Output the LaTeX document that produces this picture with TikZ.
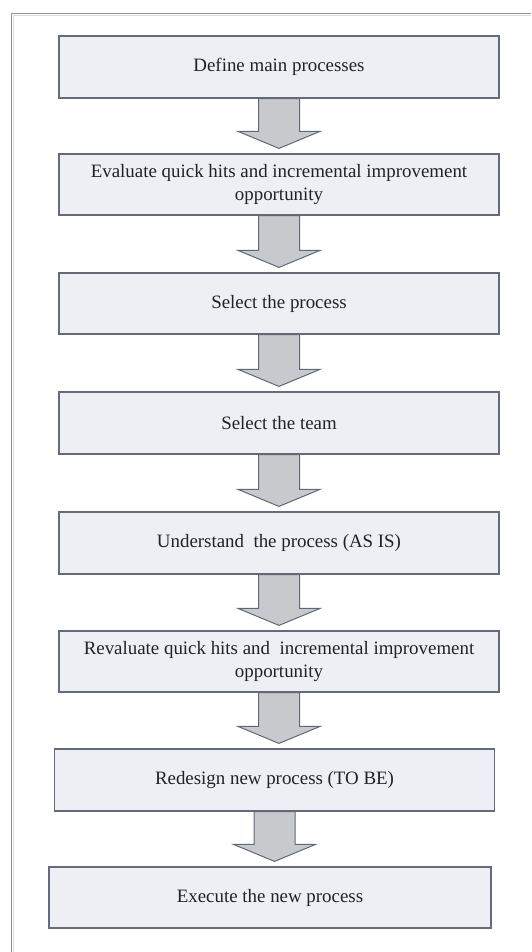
\documentclass[tikz,border=0pt]{standalone}
\usepackage{fontspec}
\setmainfont{Liberation Serif}
\usetikzlibrary{calc}
\definecolor{boxfill}{HTML}{EEEFF5}
\definecolor{boxline}{HTML}{646B7B}
\definecolor{arrfill}{HTML}{C8C9CC}
\definecolor{arrline}{HTML}{5F6878}
\definecolor{frameline}{HTML}{8E939B}
\definecolor{framelight}{HTML}{DADCDF}
\definecolor{txt}{HTML}{222222}
\tikzset{
  stepbox/.style={draw=boxline, fill=boxfill, line width=1.2pt, minimum width=440pt,
    minimum height=62pt, inner sep=0pt, align=center, text=txt,
    font=\fontsize{18.9pt}{23pt}\selectfont},
  arrowshape/.style={draw=arrline, fill=arrfill, line width=1pt, line join=miter},
}
\newcommand{\flowarr}[2]{%
  \path (#2.north) ++(0,-5) coordinate (tipy);
  \coordinate (tip) at (#1.south |- tipy);
  \draw[arrowshape] ($(#1.south)+(-20.5,0)$) -- ($(#1.south)+(20.5,0)$)
    -- ($(tip)+(20.5,-17)$) -- ($(tip)+(41,-17)$) -- (tip)
    -- ($(tip)+(-41,-17)$) -- ($(tip)+(-20.5,-17)$) -- cycle;
}
\begin{document}
\begin{tikzpicture}[x=1pt,y=-1pt]
\useasboundingbox (0,0) rectangle (531,952);
% frame
\draw[framelight, line width=1.2pt] (13.5,15.5) -- (531,15.5);
\draw[framelight, line width=1.2pt] (13.5,15.5) -- (13.5,952);
\draw[frameline, line width=1.3pt] (11.5,13.5) -- (531,13.5);
\draw[frameline, line width=1.3pt] (11.5,13.5) -- (11.5,952);
% boxes
\node[stepbox] (b1) at (279,67) {Define main processes};
\node[stepbox, minimum height=61pt] (b2) at (279,184.5) {Evaluate quick hits and incremental improvement\\opportunity};
\node[stepbox, minimum height=61pt] (b3) at (279,303.5) {Select the process};
\node[stepbox] (b4) at (279,423) {Select the team};
\node[stepbox] (b5) at (279,543) {Understand\ \ the process (AS IS)};
\node[stepbox, minimum height=61pt] (b6) at (279,661.5) {Revaluate quick hits and\ \ incremental improvement\\opportunity};
\node[stepbox] (b7) at (274.5,780) {Redesign new process (TO BE)};
\node[stepbox, minimum width=442pt, minimum height=61pt] (b8) at (270,897.5) {Execute the new process};
% arrows
\flowarr{b1}{b2}
\flowarr{b2}{b3}
\flowarr{b3}{b4}
\flowarr{b4}{b5}
\flowarr{b5}{b6}
\flowarr{b6}{b7}
\flowarr{b7}{b8}
\end{tikzpicture}
\end{document}
